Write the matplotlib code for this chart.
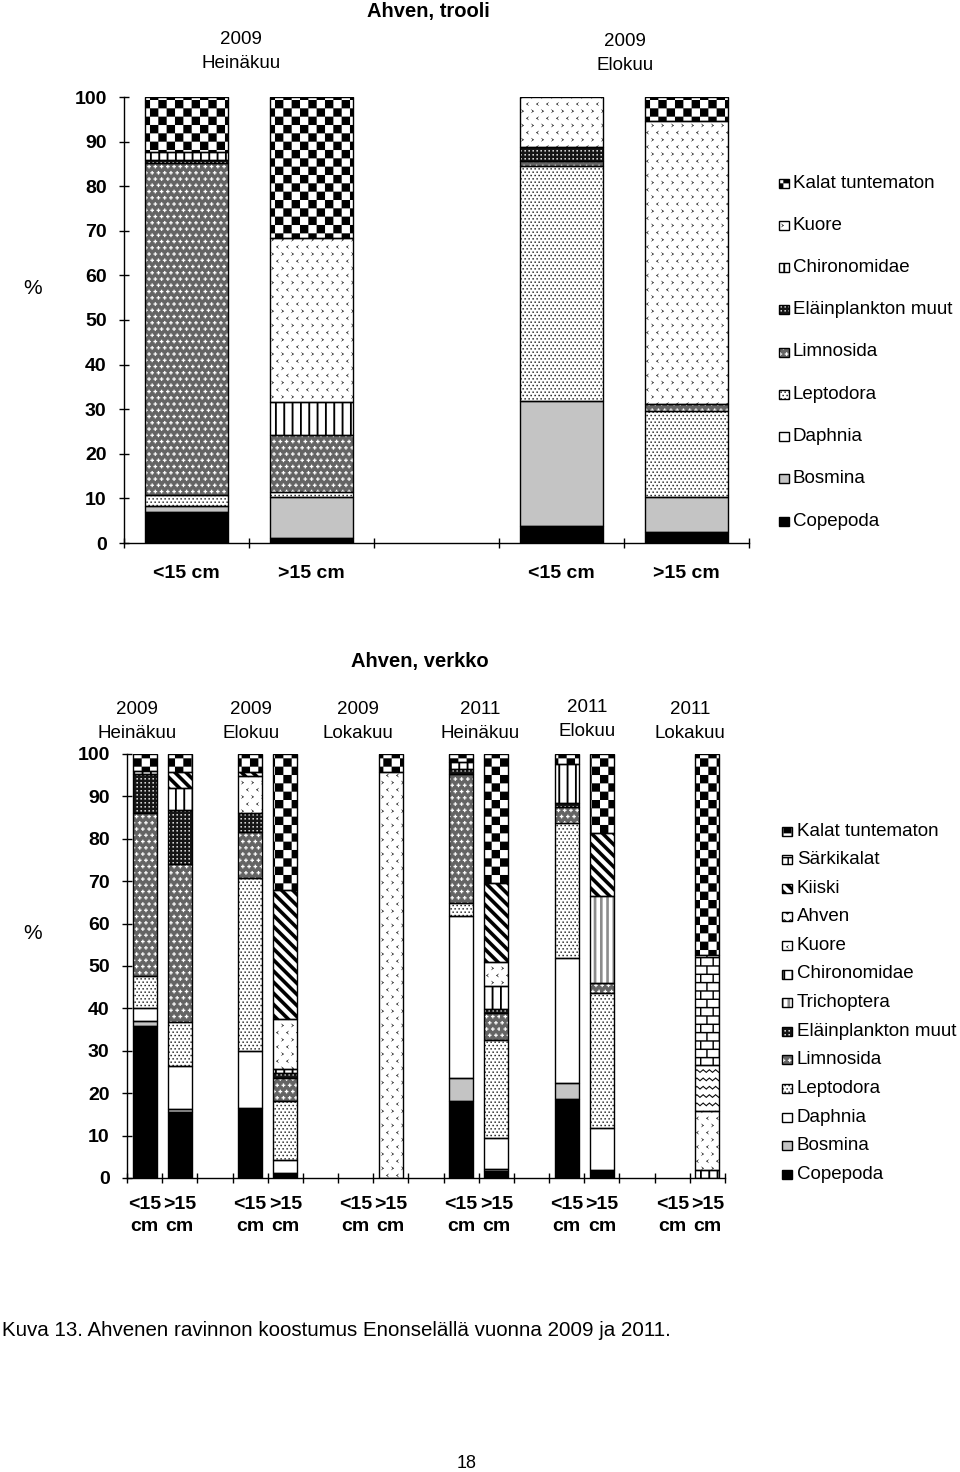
import warnings
warnings.filterwarnings('ignore')
import numpy as np
import matplotlib
matplotlib.use('Agg')
import matplotlib.pyplot as plt
import matplotlib.hatch as mhatch
from matplotlib.path import Path
from matplotlib.patches import Rectangle

plt.rcParams['font.family'] = ['Liberation Sans', 'DejaVu Sans']
plt.rcParams['hatch.linewidth'] = 0.05

# ---------------- data: top chart (Ahven, trooli) ----------------
top_title = 'Ahven, trooli'
top_group_years = ['2009', '2009']
top_group_months = ['Heinäkuu', 'Elokuu']
top_bar_labels = ['<15 cm', '>15 cm', '', '<15 cm', '>15 cm']
top_series = ['Copepoda', 'Bosmina', 'Daphnia', 'Leptodora', 'Limnosida',
              'Eläinplankton muut', 'Chironomidae', 'Kuore', 'Kalat tuntematon']
top_copepoda = [6.9, 1.1, 0, 3.9, 2.5]
top_bosmina = [1.3, 9.3, 0, 27.9, 7.8]
top_daphnia = [0, 0, 0, 0, 0]
top_leptodora = [2.6, 1.1, 0, 52.8, 19.4]
top_limnosida = [74.4, 12.7, 0, 1.0, 1.5]
top_elainplankton = [0.6, 0, 0, 3.2, 0]
top_chironomidae = [1.8, 7.5, 0, 0, 0]
top_kuore = [0, 36.6, 0, 11.2, 63.4]
top_kalat = [12.4, 31.6, 0, 0, 5.5]
top_values = [top_copepoda, top_bosmina, top_daphnia, top_leptodora, top_limnosida,
              top_elainplankton, top_chironomidae, top_kuore, top_kalat]

# ---------------- data: bottom chart (Ahven, verkko) ----------------
bot_title = 'Ahven, verkko'
bot_group_years = ['2009', '2009', '2009', '2011', '2011', '2011']
bot_group_months = ['Heinäkuu', 'Elokuu', 'Lokakuu', 'Heinäkuu', 'Elokuu', 'Lokakuu']
bot_bar_labels = ['<15\ncm', '>15\ncm'] * 6
bot_series = ['Copepoda', 'Bosmina', 'Daphnia', 'Leptodora', 'Limnosida',
              'Eläinplankton muut', 'Trichoptera', 'Chironomidae', 'Kuore',
              'Ahven', 'Kiiski', 'Särkikalat', 'Kalat tuntematon']
bot_copepoda = [35.9, 15.5, 16.5, 1.2, 0, 0, 18.1, 1.6, 18.6, 1.8, 0, 0]
bot_bosmina = [1.2, 0.8, 0, 0, 0, 0, 5.5, 0.5, 3.9, 0, 0, 0]
bot_daphnia = [3.0, 10.2, 13.4, 3.1, 0, 0, 38.3, 7.3, 29.5, 10.0, 0, 0]
bot_leptodora = [7.5, 10.4, 40.8, 13.9, 0, 0, 3.0, 23.2, 31.7, 31.8, 0, 0]
bot_limnosida = [38.5, 37.1, 10.8, 5.3, 0, 0, 30.4, 6.4, 3.9, 2.4, 0, 0]
bot_elainplankton = [9.2, 12.8, 4.6, 1.2, 0, 0, 1.2, 0.8, 0.9, 0, 0, 0]
bot_trichoptera = [0, 0, 0, 0, 0, 0, 0, 0, 0, 20.4, 0, 0]
bot_chironomidae = [0.8, 5.1, 0, 0.9, 0, 0, 1.6, 5.5, 9.1, 0, 0, 2.0]
bot_kuore = [0, 0, 8.6, 11.8, 0, 95.8, 0, 5.7, 0, 0, 0, 13.7]
bot_ahven = [0, 0, 0, 0, 0, 0, 0, 0, 0, 0, 0, 11.0]
bot_kiiski = [0, 3.9, 1.0, 30.6, 0, 0, 0, 18.5, 0, 14.9, 0, 0]
bot_sarkikalat = [0, 0, 0, 0, 0, 0, 0, 0, 0, 0, 0, 25.9]
bot_kalat = [4.0, 4.2, 4.3, 31.9, 0, 4.2, 2.0, 30.5, 2.4, 18.7, 0, 47.4]
bot_values = [bot_copepoda, bot_bosmina, bot_daphnia, bot_leptodora, bot_limnosida,
              bot_elainplankton, bot_trichoptera, bot_chironomidae, bot_kuore,
              bot_ahven, bot_kiiski, bot_sarkikalat, bot_kalat]

caption = 'Kuva 13. Ahvenen ravinnon koostumus Enonselällä vuonna 2009 ja 2011.'
page_no = '18'

# ---------------- custom hatch patterns (filled shapes) ----------------
T = 100.0  # hatch tile is 1 inch = 100 px at dpi 100


def R(x0, y0, w, h):
    return np.array([(x0, y0), (x0 + w, y0), (x0 + w, y0 + h), (x0, y0 + h)]) / T


def pat_checker(n=12):
    s = T / n
    return [R(i * s, j * s, s, s) for i in range(n) for j in range(n) if (i + j) % 2 == 0]


def pat_kuore():
    polys = []
    nc, nr = 10, 14
    dx, dy = T / nc, T / nr
    w, h = 3.0, 3.8
    for j in range(nr):
        for i in range(nc):
            x = i * dx + (dx / 2 if j % 2 else 0) + 1.0
            y = j * dy + 1.2
            if j % 2 == 0:
                p = [(x, y), (x + w, y + h / 2), (x, y + h), (x + w * 0.55, y + h / 2)]
            else:
                p = [(x + w, y), (x + w * 0.45, y + h / 2), (x + w, y + h), (x, y + h / 2)]
            polys.append(np.array(p) / T)
    return polys


def pat_vlines(n, lw):
    return [R(i * T / n, 0, lw, T) for i in range(n)]


def pat_dots(nc, nr, size, stagger=True):
    dx, dy = T / nc, T / nr
    out = []
    for j in range(nr):
        for i in range(nc):
            x = i * dx + (dx / 2 if (stagger and j % 2) else 0) + 0.5
            out.append(R(x, j * dy + 0.5, size, size))
    return out


def plus(cx, cy, a, h):
    p = [(cx - h, cy - a), (cx + h, cy - a), (cx + h, cy - h), (cx + a, cy - h),
         (cx + a, cy + h), (cx + h, cy + h), (cx + h, cy + a), (cx - h, cy + a),
         (cx - h, cy + h), (cx - a, cy + h), (cx - a, cy - h), (cx - h, cy - h)]
    return np.array(p) / T


def pat_plus(n=16):
    d = T / n
    out = []
    for j in range(n):
        for i in range(n):
            cx = i * d + (d / 2 if j % 2 else 0) + 2.2
            cy = j * d + 2.2
            out.append(plus(cx, cy, 1.8, 0.6))
    return out


def pat_stripes(N=9, t=5.0):
    out = []
    for k in range(-N, 2 * N + 1):
        c = k * T / N
        out.append(np.array([(0, c), (0, c + t), (T, c + t - T), (T, c - T)]) / T)
    return out


def pat_zigzag(nr=12, nseg=32, A=2.6, t=1.3):
    dy, dx = T / nr, T / nseg
    out = []
    for j in range(nr):
        y0 = j * dy + 2
        for i in range(nseg):
            xa, xb = i * dx, (i + 1) * dx
            ya = y0 + (A if i % 2 else 0)
            yb = y0 + (0 if i % 2 else A)
            out.append(np.array([(xa, ya), (xb, yb), (xb, yb + t), (xa, ya + t)]) / T)
    return out


def pat_brick(nr=12, nc=8, lt=1.4):
    dy, dx = T / nr, T / nc
    out = []
    for j in range(nr):
        out.append(R(0, j * dy, T, lt))
        for i in range(nc):
            x = i * dx + (dx / 2 if j % 2 else 0)
            out.append(R(x, j * dy + lt, lt, dy - lt))
    return out


HATCH_SHAPES = {
    'C': pat_checker(12),
    'K': pat_kuore(),
    'V': pat_vlines(12, 1.8),
    'T': pat_vlines(16, 2.6),
    'E': pat_dots(25, 25, 1.4, stagger=False),
    'L': pat_plus(16),
    'P': pat_dots(25, 30, 1.3, stagger=True),
    'S': pat_stripes(9, 5.0),
    'Z': pat_zigzag(),
    'B': pat_brick(),
}


class CustomHatch(mhatch.HatchPatternBase):
    def __init__(self, hatch, density):
        polys = []
        for ch in sorted(set(hatch or '')):
            if ch in HATCH_SHAPES:
                polys.extend(HATCH_SHAPES[ch])
        self.polys = polys
        self.num_vertices = sum(len(p) + 1 for p in polys)

    def set_vertices_and_codes(self, vertices, codes):
        i = 0
        for p in self.polys:
            n = len(p)
            vertices[i:i + n] = p
            vertices[i + n] = p[0]
            codes[i] = Path.MOVETO
            codes[i + 1:i + n] = Path.LINETO
            codes[i + n] = Path.CLOSEPOLY
            i += n + 1


mhatch._hatch_types.append(CustomHatch)
try:
    mhatch._validate_hatch_pattern = lambda h: None
except Exception:
    pass

# name -> (face colour, hatch code, hatch colour)
STYLE = {
    'Copepoda': ('black', '', 'black'),
    'Bosmina': ('#c4c4c4', '', 'black'),
    'Daphnia': ('white', '', 'black'),
    'Leptodora': ('white', 'P', 'black'),
    'Limnosida': ('#646464', 'L', 'white'),
    'Eläinplankton muut': ('#151515', 'E', 'white'),
    'Trichoptera': ('white', 'T', '#8c8c8c'),
    'Chironomidae': ('white', 'V', 'black'),
    'Kuore': ('white', 'K', 'black'),
    'Ahven': ('white', 'Z', 'black'),
    'Kiiski': ('white', 'S', 'black'),
    'Särkikalat': ('white', 'B', 'black'),
    'Kalat tuntematon': ('white', 'C', 'black'),
}

W, H = 960, 1472
fig = plt.figure(figsize=(W / 100, H / 100), dpi=100)


def fx(x):
    return x / W


def fy(y):
    return 1 - y / H


def draw_stack(ax, xs, names, values, width):
    xs = np.asarray(xs, float)
    bottoms = np.zeros(len(xs))
    for name, vals in zip(names, values):
        vals = np.asarray(vals, float)
        face, hatch, hc = STYLE[name]
        m = vals > 0
        if m.any():
            ax.bar(xs[m], vals[m], width, bottom=bottoms[m], color=face,
                   hatch=(hatch or None), edgecolor=hc, linewidth=0, zorder=2)
            ax.bar(xs[m], vals[m], width, bottom=bottoms[m], fill=False,
                   edgecolor='black', linewidth=1.0, zorder=3)
        bottoms += vals


def style_axes(ax, nslots, ylab_weight):
    for s in ['top', 'right']:
        ax.spines[s].set_visible(False)
    for s in ['left', 'bottom']:
        ax.spines[s].set_linewidth(1.0)
    ax.set_xlim(-0.5, nslots - 0.5)
    ax.set_ylim(0, 100)
    ax.set_yticks(np.arange(0, 101, 10))
    ax.tick_params(axis='y', direction='inout', length=7, width=1.0, pad=9,
                   labelsize=14)
    for lab in ax.get_yticklabels():
        lab.set_fontweight(ylab_weight)
    ax.set_xticks(np.arange(-0.5, nslots, 1.0), minor=True)
    ax.tick_params(axis='x', which='minor', direction='inout', length=7, width=1.0)
    ax.tick_params(axis='x', which='major', length=0, labelsize=14)


def draw_legend(names, x_box, y_first, dy, bw, bh, text_x, fs):
    for k, name in enumerate(names):
        yc = y_first + k * dy
        face, hatch, hc = STYLE[name]
        r = Rectangle((fx(x_box), fy(yc + bh / 2)), bw / W, bh / H,
                      transform=fig.transFigure, facecolor=face,
                      hatch=(hatch or None), edgecolor=hc, linewidth=0)
        fig.add_artist(r)
        r2 = Rectangle((fx(x_box), fy(yc + bh / 2)), bw / W, bh / H,
                       transform=fig.transFigure, fill=False,
                       edgecolor='black', linewidth=1.0)
        fig.add_artist(r2)
        fig.text(fx(text_x), fy(yc), name, ha='left', va='center', fontsize=fs)


# ---------------- top chart ----------------
ax1 = fig.add_axes([fx(124), fy(543), (749 - 124) / W, (543 - 97) / H])
x_top = np.arange(len(top_bar_labels))
draw_stack(ax1, x_top, top_series, top_values, 0.66)
style_axes(ax1, len(top_bar_labels), 'bold')
ax1.set_xticks(x_top)
ax1.set_xticklabels(top_bar_labels, fontweight='bold')
ax1.tick_params(axis='x', which='major', pad=16)

fig.text(fx(428), fy(12), top_title, ha='center', va='center', fontsize=14.5,
         fontweight='bold')
for yr, mo, c, dyy in zip(top_group_years, top_group_months, [241, 625], [0, 2]):
    fig.text(fx(c), fy(40 + dyy), yr, ha='center', va='center', fontsize=13.5)
    fig.text(fx(c), fy(64 + dyy), mo, ha='center', va='center', fontsize=13.5)
fig.text(fx(33), fy(288), '%', ha='center', va='center', fontsize=15)
draw_legend(top_series[::-1], 779, 183, 42.25, 10, 9, 793, 13.5)

# ---------------- bottom chart ----------------
nslots = 17
ax2 = fig.add_axes([fx(127), fy(1178), (725 - 127) / W, (1178 - 754) / H])
x_bot = np.array([3 * g + b for g in range(6) for b in range(2)])
draw_stack(ax2, x_bot, bot_series, bot_values, 0.68)
style_axes(ax2, nslots, 'bold')
ax2.set_xticks(x_bot)
ax2.set_xticklabels(bot_bar_labels, fontweight='bold', linespacing=1.4)
ax2.tick_params(axis='x', which='major', pad=13)

fig.text(fx(420), fy(662), bot_title, ha='center', va='center', fontsize=14.5,
         fontweight='bold')
bot_label_x = [137, 251, 358, 480, 587, 690]
bot_label_dy = [0, 0, 0, 0, -2, 0]
for yr, mo, c, d in zip(bot_group_years, bot_group_months, bot_label_x, bot_label_dy):
    fig.text(fx(c), fy(710 + d), yr, ha='center', va='center', fontsize=13.5)
    fig.text(fx(c), fy(733 + d), mo, ha='center', va='center', fontsize=13.5)
fig.text(fx(33), fy(933), '%', ha='center', va='center', fontsize=15)
draw_legend(bot_series[::-1], 782, 831, 28.6, 10, 9, 797, 13.5)

fig.text(fx(2), fy(1331), caption, ha='left', va='center', fontsize=14.8)
fig.text(fx(467), fy(1463), page_no, ha='center', va='center', fontsize=13)

fig.savefig('out.png', dpi=100)
